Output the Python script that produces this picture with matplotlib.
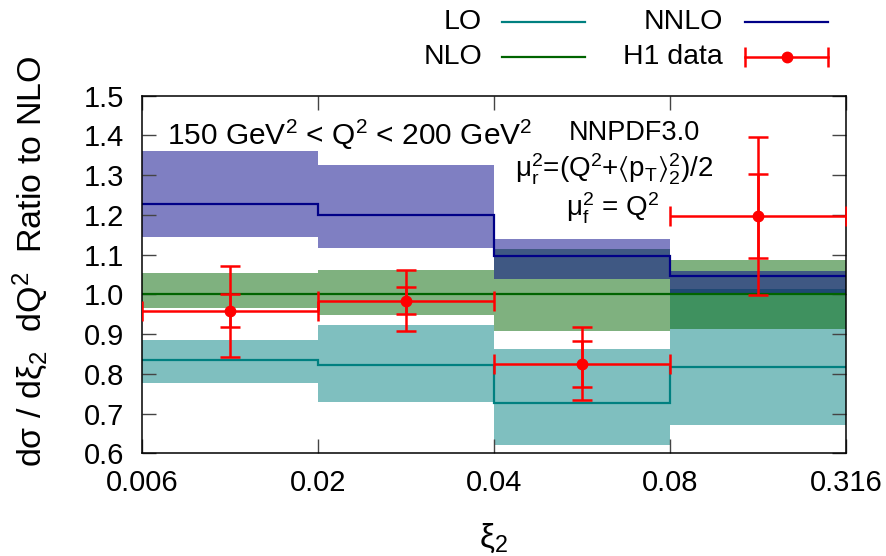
import matplotlib
matplotlib.use("Agg")
import matplotlib.pyplot as plt
from matplotlib.lines import Line2D
import numpy as np

plt.rcParams['font.family'] = ['Liberation Sans', 'DejaVu Sans']
plt.rcParams['mathtext.fontset'] = 'custom'
plt.rcParams['mathtext.rm'] = 'Liberation Sans'
plt.rcParams['mathtext.it'] = 'Liberation Sans:italic'
plt.rcParams['mathtext.default'] = 'regular'

# bins in xi_2 (drawn with equal widths)
xi_edges = ['0.006', '0.02', '0.04', '0.08', '0.316']

# ratio to NLO: central values and scale-band limits
lo_val = [0.835, 0.821, 0.727, 0.816]
lo_up = [0.885, 0.923, 0.862, 1.013]
lo_dn = [0.778, 0.730, 0.621, 0.671]

nlo_val = [1.0, 1.0, 1.0, 1.0]
nlo_up = [1.054, 1.061, 1.114, 1.086]
nlo_dn = [0.966, 0.948, 0.908, 0.912]

nnlo_val = [1.227, 1.200, 1.097, 1.046]
nnlo_up = [1.361, 1.326, 1.139, 1.058]
nnlo_dn = [1.145, 1.117, 1.038, 1.002]

# H1 data
h1_val = [0.958, 0.984, 0.825, 1.198]
h1_tot_up = [1.072, 1.061, 0.917, 1.397]
h1_tot_dn = [0.843, 0.908, 0.735, 0.998]
h1_stat_up = [1.000, 1.018, 0.883, 1.302]
h1_stat_dn = [0.918, 0.951, 0.767, 1.092]

edges = np.arange(len(xi_edges))
centers = edges[:-1] + 0.5

c_lo = (0, 0.5, 0.5)
c_nlo = (0, 100 / 255, 0)
c_nnlo = (0, 0, 0.53)
c_h1 = (1, 0, 0)

fig = plt.figure(figsize=(8.86, 5.56), dpi=100)
ax = fig.add_axes([0.1603, 0.1847, 0.7946, 0.6432])

for up, dn, col in [(lo_up, lo_dn, c_lo), (nlo_up, nlo_dn, c_nlo), (nnlo_up, nnlo_dn, c_nnlo)]:
    up = np.array(up)
    dn = np.array(dn)
    ax.bar(centers, up - dn, bottom=dn, width=1.0, color=col, alpha=0.5,
           linewidth=0, zorder=1)

for val, col in [(lo_val, c_lo), (nlo_val, c_nlo), (nnlo_val, c_nnlo)]:
    ax.stairs(val, edges, baseline=None, color=col, linewidth=1.6, zorder=2)

h1 = np.array(h1_val)
ax.errorbar(centers, h1, xerr=0.5,
            yerr=[h1 - np.array(h1_tot_dn), np.array(h1_tot_up) - h1],
            fmt='o', color=c_h1, ms=7.5, lw=1.8, capsize=7, capthick=1.8, zorder=4)
ax.errorbar(centers, h1,
            yerr=[h1 - np.array(h1_stat_dn), np.array(h1_stat_up) - h1],
            fmt='none', ecolor=c_h1, lw=1.8, capsize=7, capthick=1.8, zorder=4)

ax.set_xlim(0, 4)
ax.set_ylim(0.6, 1.5)
ax.set_xticks(edges)
ax.set_xticklabels(xi_edges)
ax.set_yticks(np.arange(0.6, 1.51, 0.1))
ax.set_yticklabels(['%.1f' % v for v in np.arange(0.6, 1.51, 0.1)])
ax.tick_params(direction='in', length=10, width=1, color='#444444',
               top=True, right=True, labelsize=21)
ax.tick_params(axis='x', pad=11)
ax.tick_params(axis='y', pad=13)
for s in ax.spines.values():
    s.set_linewidth(1.1)

ax.text(0.0355, 0.862, '150 GeV$^2$ < Q$^2$ < 200 GeV$^2$', transform=ax.transAxes,
        fontsize=21.5, ha='left', va='baseline')
ax.text(0.699, 0.876, 'NNPDF3.0', transform=ax.transAxes, fontsize=19.5,
        ha='center', va='baseline')
ax.text(0.67, 0.770, r'$\mu_r^2$=(Q$^2$+$\langle$p$_T\rangle_2^2$)/2', transform=ax.transAxes,
        fontsize=20, ha='center', va='baseline')
ax.text(0.668, 0.662, r'$\mu_f^2$ = Q$^2$', transform=ax.transAxes, fontsize=20,
        ha='center', va='baseline')

ax.text(-0.159, 0.538, 'dσ / dξ$_2$  dQ$^2$  Ratio to NLO', transform=ax.transAxes,
        rotation=90, fontsize=24.5, ha='center', va='center')
fig.text(0.557, 1 - 538 / 556, 'ξ$_2$', fontsize=24, ha='center', va='center')

# legend, drawn by hand to keep the right-aligned labels
legend_rows = [('LO', c_lo, 0.544, 0.5666, 0.6603, 0.960),
               ('NLO', c_nlo, 0.544, 0.5666, 0.6603, 0.897),
               ('NNLO', c_nnlo, 0.816, 0.8409, 0.9345, 0.960)]
for name, col, tx, x0, x1, y in legend_rows:
    fig.text(tx, y, name, fontsize=20.5, ha='right', va='center')
    fig.add_artist(Line2D([x0, x1], [y, y], color=col, lw=1.6))
y = 0.897
fig.text(0.816, y, 'H1 data', fontsize=20.5, ha='right', va='center')
fig.add_artist(Line2D([0.8409, 0.9345], [y, y], color=c_h1, lw=1.8))
fig.add_artist(Line2D([0.8409, 0.9345], [y, y], color=c_h1, lw=0, marker='|',
                      ms=14, mew=1.8))
fig.add_artist(Line2D([(0.8409 + 0.9345) / 2], [y], color=c_h1, lw=0, marker='o', ms=7.5))

fig.savefig('out.png', dpi=100)
